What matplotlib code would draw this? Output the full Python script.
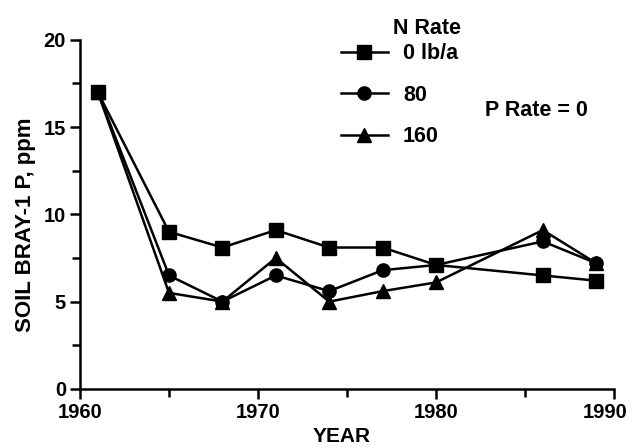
import matplotlib

matplotlib.use("Agg")
import matplotlib.pyplot as plt
from matplotlib.ticker import MultipleLocator
from matplotlib.transforms import ScaledTranslation

plt.rcParams["font.family"] = ["Liberation Sans", "DejaVu Sans"]
plt.rcParams["font.weight"] = "bold"

# Soil Bray-1 P by sampling year for three N rates (P rate = 0)
years = [1961, 1965, 1968, 1971, 1974, 1977, 1980, 1986, 1989]
p_n0 = [17.0, 9.0, 8.1, 9.1, 8.1, 8.1, 7.1, 6.5, 6.2]
p_n80 = [17.0, 6.5, 5.0, 6.5, 5.6, 6.8, 7.1, 8.45, 7.2]
p_n160 = [17.0, 5.5, 5.0, 7.5, 5.0, 5.6, 6.1, 9.1, 7.2]

year_ticks = [1960, 1970, 1980, 1990]
ppm_ticks = [0, 5, 10, 15, 20]

series_labels = ["0 lb/a", "80", "160"]
series_markers = ["s", "o", "^"]
series_sizes = [10, 9.5, 9.5]

fig = plt.figure(figsize=(6.35, 4.48), dpi=100)
ax = fig.add_axes([0.126, 0.132, 0.841, 0.779])

for vals, lab, mk, ms in zip([p_n0, p_n80, p_n160], series_labels, series_markers, series_sizes):
    ax.plot(years, vals, color="black", linewidth=1.8, marker=mk, markersize=ms,
            markerfacecolor="black", markeredgecolor="black", label=lab, clip_on=False)

ax.set_xlim(1960, 1990)
ax.set_ylim(0, 20)
ax.set_xticks(year_ticks)
ax.set_yticks(ppm_ticks)
ax.xaxis.set_minor_locator(MultipleLocator(5))
ax.yaxis.set_minor_locator(MultipleLocator(2.5))
ax.tick_params(which="both", direction="out", width=1.8, colors="black")
ax.tick_params(which="major", length=7, labelsize=14.5, pad=3)
ax.tick_params(which="minor", length=6)
for lbl in ax.get_xticklabels() + ax.get_yticklabels():
    lbl.set_fontweight("bold")

# pull the last year label in a little so it stays inside the figure
last = ax.get_xticklabels()[-1]
last.set_transform(last.get_transform() + ScaledTranslation(-0.09, 0, fig.dpi_scale_trans))

ax.spines["top"].set_visible(False)
ax.spines["right"].set_visible(False)
ax.spines["left"].set_linewidth(1.8)
ax.spines["bottom"].set_linewidth(1.8)

ax.set_xlabel("YEAR", fontsize=15, fontweight="bold")
ax.xaxis.set_label_coords(0.49, -0.11)
ax.set_ylabel("SOIL BRAY-1 P, ppm", fontsize=16, fontweight="bold")
ax.yaxis.set_label_coords(-0.082, 0.47)

leg = ax.legend(loc="upper left", bbox_to_anchor=(0.48, 1.002), frameon=False,
                fontsize=15.5, handlelength=2.2, handletextpad=0.7,
                labelspacing=0.95, borderpad=0.2, borderaxespad=0)
for t in leg.get_texts():
    t.set_fontweight("bold")

ax.text(0.586, 1.034, "N Rate", transform=ax.transAxes, fontsize=15.5,
        fontweight="bold", ha="left", va="center")
ax.text(0.759, 0.797, "P Rate = 0", transform=ax.transAxes, fontsize=15.5,
        fontweight="bold", ha="left", va="center")

fig.savefig("out.png", dpi=100)
